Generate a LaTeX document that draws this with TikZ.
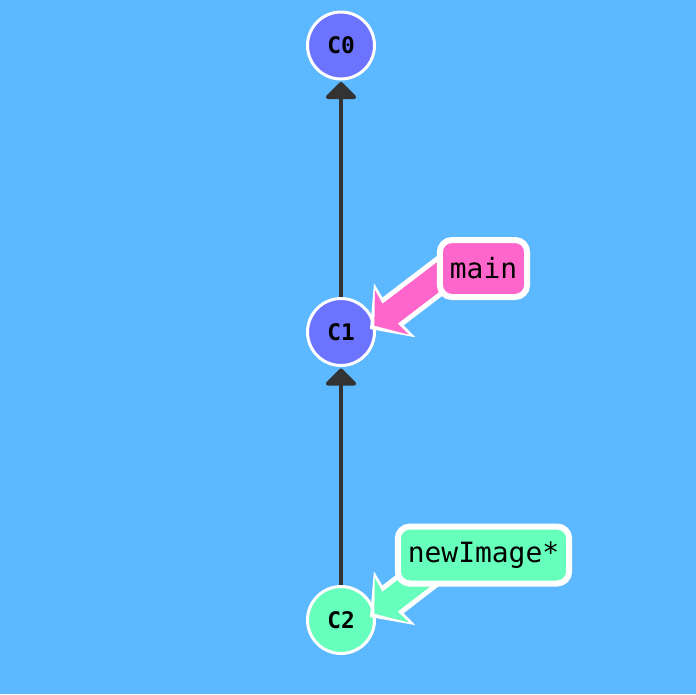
\documentclass[tikz,border=0pt]{standalone}
\usepackage{fontspec}
\newfontfamily\gitmono{DejaVu Sans Mono}
\usetikzlibrary{arrows.meta,calc,positioning}
\definecolor{bgblue}{HTML}{5CB8FF}
\definecolor{commitblue}{HTML}{6B73FF}
\definecolor{branchpink}{HTML}{FF66CC}
\definecolor{branchgreen}{HTML}{66FFBB}
\definecolor{linkgray}{HTML}{333333}
\pgfdeclarelayer{bg}
\pgfdeclarelayer{front}
\pgfsetlayers{bg,main,front}
\tikzset{
  commit/.style={draw=white,circle,line width=0.06cm,minimum size=1.34cm,inner sep=0pt,font=\gitmono\bfseries\fontsize{13}{15}\selectfont},
  branch/.style={draw=white,rectangle,rounded corners=0.24cm,line width=0.12cm,minimum height=1.14cm,inner xsep=0.2cm,font=\gitmono\fontsize{15.9}{18}\selectfont},
  link/.style={draw=linkgray,line width=0.08cm,-{Triangle[length=0.36cm,width=0.7cm,round]},shorten >=0.03cm},
  tagout/.style={draw=white,line width=0.7cm,-{Stealth[length=0.62cm,width=1.36cm,inset=0.08cm,line width=0pt]}},
  tagin/.style={line width=0.5cm,-{Stealth[length=0.44cm,width=1.12cm,inset=0.08cm,line width=0pt]},shorten >=0.11cm}
}

\begin{document}
\begin{tikzpicture}[x=0.02cm,y=-0.02cm]
  \fill[bgblue] (0,0) rectangle (696,694);
  \useasboundingbox (0,0) rectangle (696,694);
  % commits
  \node[commit,fill=commitblue] (c0) at (341,45.5) {C0};
  \node[commit,fill=commitblue] (c1) at (341,332) {C1};
  \node[commit,fill=branchgreen] (c2) at (341,620) {C2};
  \draw[link] (c1) -- (c0);
  \draw[link] (c2) -- (c1);
  % branch labels
  \begin{pgfonlayer}{front}
    \node[branch,fill=branchpink] (main) at (483.5,268.5) {main};
    \node[branch,fill=branchgreen] (newimage) at (483.5,555) {newImage*};
  \end{pgfonlayer}
  \coordinate (mainfrom) at ([shift={(-25,-7)}]main.center);
  \coordinate (maintip) at ([shift={(29,-3)}]c1.center);
  \coordinate (newfrom) at ([shift={(-25,-6)}]newimage.center);
  \coordinate (newtip) at ([shift={(29,-3)}]c2.center);
  \draw[tagout] (mainfrom) -- (maintip);
  \draw[tagin,draw=branchpink] (mainfrom) -- (maintip);
  \draw[tagout] (newfrom) -- (newtip);
  \draw[tagin,draw=branchgreen] (newfrom) -- (newtip);
\end{tikzpicture}
\end{document}
